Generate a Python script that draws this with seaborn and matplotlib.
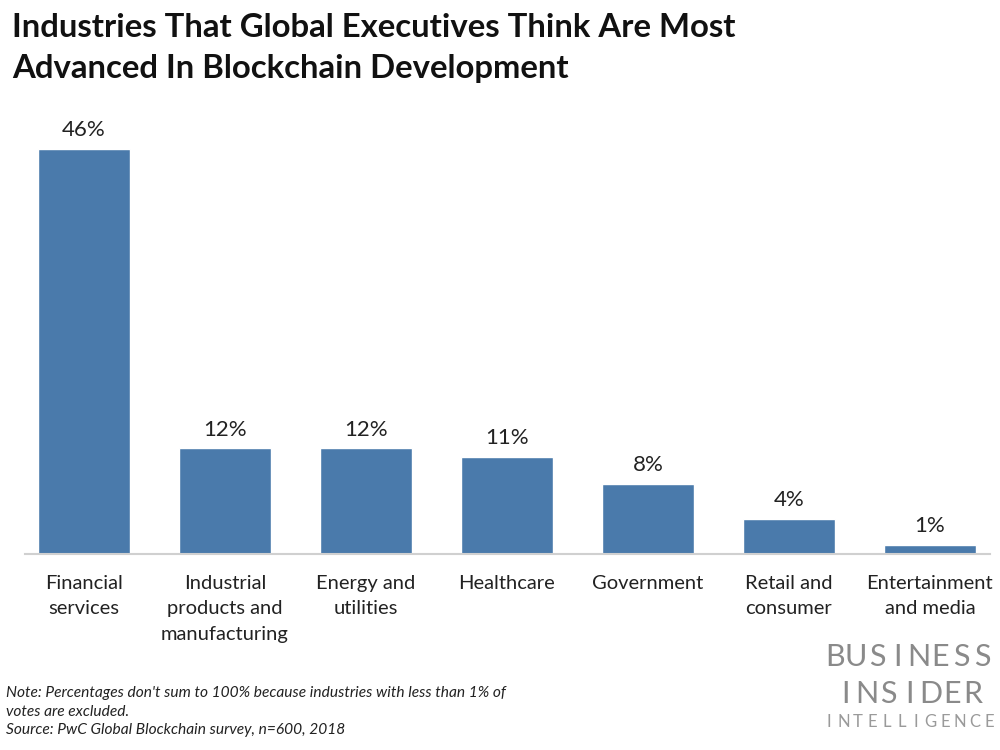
"""Industries most advanced in blockchain development (bar chart)."""

import numpy as np
import pandas as pd
import seaborn as sns
import matplotlib.pyplot as plt

industries = [
    "Financial\nservices",
    "Industrial\nproducts and\nmanufacturing",
    "Energy and\nutilities",
    "Healthcare",
    "Government",
    "Retail and\nconsumer",
    "Entertainment\nand media",
]
shares = [46, 12, 12, 11, 8, 4, 1]

BAR_COLOR = "#4a7aab"
FONT = ["Lato", "DejaVu Sans"]

sns.set_theme(style="white")
plt.rcParams["font.family"] = FONT

df = pd.DataFrame({"industry": industries, "share": shares})

fig = plt.figure(figsize=(10, 7.5), dpi=100)
ax = fig.add_axes([0.025, 0.2613, 0.965, 0.587])
sns.barplot(data=df, x="industry", y="share", color=BAR_COLOR, width=0.65,
            saturation=1, ax=ax)

ax.set_xlim(-0.418, 6.426)
ax.set_ylim(0, 50)
ax.set_xlabel("")
ax.set_ylabel("")
ax.set_yticks([])
for side in ["top", "left", "right"]:
    ax.spines[side].set_visible(False)
ax.spines["bottom"].set_color("#d0d0d0")
ax.spines["bottom"].set_linewidth(1.5)
ax.tick_params(axis="x", length=0, pad=15, labelsize=14.5, labelcolor="#222222")
for lbl in ax.get_xticklabels():
    lbl.set_linespacing(1.6)

# Value labels on top of bars
for i, v in enumerate(shares):
    ax.text(i, v + 1.0, f"{v}%", ha="center", va="bottom", fontsize=16,
            color="#222222")

fig.text(0.012, 0.983, "Industries That Global Executives Think Are Most\n"
         "Advanced In Blockchain Development", ha="left", va="top",
         fontsize=23.7, fontweight="bold", color="#111111", linespacing=1.52)

fig.text(0.006, 0.085, "Note: Percentages don't sum to 100% because industries with less than 1% of\n"
         "votes are excluded.\nSource: PwC Global Blockchain survey, n=600, 2018",
         ha="left", va="top", fontsize=11.2, style="italic", color="#222222",
         linespacing=1.42)


# Branding, letter-spaced
def spaced(word, x0, x1, y, size, color):
    xs = np.linspace(x0, x1, len(word))
    for ch, x in zip(word, xs):
        fig.text(x / 1000, 1 - y / 750, ch, ha="center", va="center",
                 fontsize=size, color=color)


spaced("BUSINESS", 835, 982, 657, 22, "#8a8a8a")
spaced("INSIDER", 846, 973, 694, 22, "#8a8a8a")
spaced("INTELLIGENCE", 829, 989, 722, 12, "#9a9a9a")

fig.savefig("out.png", dpi=100)
